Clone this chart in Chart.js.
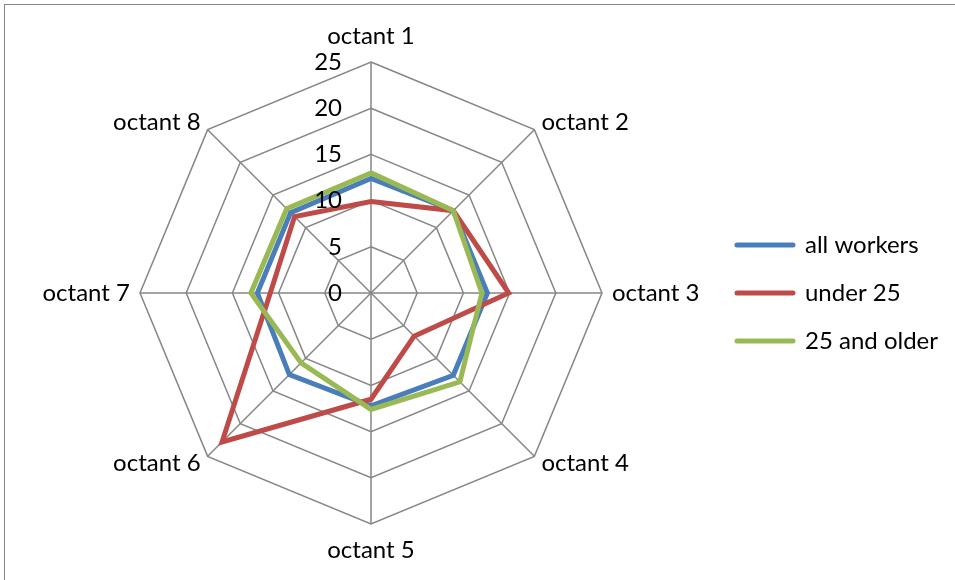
<!DOCTYPE html>
<html>
<head>
<meta charset="utf-8">
<script src="https://cdn.jsdelivr.net/npm/chart.js@4/dist/chart.umd.min.js"></script>
<style>
  html, body { margin: 0; padding: 0; background: #ffffff; }
  body { width: 955px; height: 580px; position: relative; overflow: hidden; }
  #frame {
    position: absolute; left: 4px; top: 4px; width: 1000px; height: 640px;
    border-left: 1.5px solid #868686; border-top: 1.5px solid #868686;
    box-sizing: border-box;
  }
  #wrap { position: absolute; left: 0; top: 0; width: 955px; height: 580px; }
</style>
</head>
<body>
<div id="frame"></div>
<div id="wrap"><canvas id="chart"></canvas></div>
<script>
// Octant categories around the radar
const octants = ['octant 1', 'octant 2', 'octant 3', 'octant 4', 'octant 5', 'octant 6', 'octant 7', 'octant 8'];

// Series values per octant
const allWorkers   = [12.4, 12.6, 12.6, 12.6, 12.2, 12.5, 12.3, 12.3];
const under25      = [9.9, 12.6, 14.9, 6.6, 11.5, 22.8, 10.9, 11.7];
const older25      = [13.0, 12.6, 12.0, 13.6, 12.6, 10.7, 13.0, 12.9];

// Radial axis tick labels
const tickValues = [0, 5, 10, 15, 20, 25];

const FONT = 'Lato, "Open Sans", sans-serif';
const FONT_SIZE = 24;

// Axis labels: tick values beside the vertical spoke, category names around the rim
const radarText = {
  id: 'radarText',
  afterDatasetsDraw(chart) {
    const s = chart.scales.r;
    const ctx = chart.ctx;
    ctx.save();
    ctx.font = FONT_SIZE + 'px ' + FONT;
    ctx.fillStyle = '#000000';
    ctx.textBaseline = 'middle';

    ctx.textAlign = 'right';
    s.ticks.forEach(t => {
      const d = s.getDistanceFromCenterForValue(t.value);
      ctx.fillText(String(t.value), s.xCenter - 29, s.yCenter - d);
    });

    chart.data.labels.forEach((label, i) => {
      const p = s.getPointPosition(i, s.drawingArea + 10);
      const dx = p.x - s.xCenter;
      const dy = p.y - s.yCenter;
      let y = p.y;
      if (Math.abs(dx) < 1) {
        ctx.textAlign = 'center';
        y += dy < 0 ? -16 : 16;
      } else {
        ctx.textAlign = dx > 0 ? 'left' : 'right';
      }
      ctx.fillText(label, p.x, y);
    });
    ctx.restore();
  }
};

const series = [
  { label: 'all workers',  data: allWorkers, color: '#4A7EBB', order: 3 },
  { label: 'under 25',     data: under25,    color: '#BE4B48', order: 2 },
  { label: '25 and older', data: older25,    color: '#98B954', order: 1 }
];

new Chart(document.getElementById('chart'), {
  type: 'radar',
  data: {
    labels: octants,
    datasets: series.map(s => ({
      label: s.label,
      data: s.data,
      borderColor: s.color,
      backgroundColor: s.color,
      borderWidth: 5,
      fill: false,
      pointRadius: 0,
      pointHoverRadius: 0,
      tension: 0,
      order: s.order,
      borderJoinStyle: 'miter',
      borderCapStyle: 'round'
    }))
  },
  options: {
    responsive: true,
    maintainAspectRatio: false,
    animation: false,
    layout: { padding: { left: 31, right: 7, top: 62, bottom: 56 } },
    plugins: {
      tooltip: { enabled: false },
      legend: {
        position: 'right',
        labels: {
          font: { family: FONT, size: FONT_SIZE },
          color: '#000000',
          usePointStyle: true,
          pointStyle: 'line',
          pointStyleWidth: 56,
          padding: 24,
          generateLabels(chart) {
            return chart.data.datasets.map((ds, i) => ({
              text: ds.label,
              fillStyle: ds.borderColor,
              strokeStyle: ds.borderColor,
              lineWidth: 5,
              lineCap: 'round',
              pointStyle: 'line',
              hidden: false,
              datasetIndex: i
            }));
          }
        }
      }
    },
    scales: {
      r: {
        min: 0,
        max: 25,
        afterBuildTicks(scale) {
          scale.ticks = tickValues.map(v => ({ value: v }));
        },
        ticks: { display: false, stepSize: 5 },
        grid: { color: '#868686', lineWidth: 1.5 },
        angleLines: { color: '#868686', lineWidth: 1.5 },
        pointLabels: { display: false }
      }
    }
  },
  plugins: [radarText]
});
</script>
</body>
</html>
